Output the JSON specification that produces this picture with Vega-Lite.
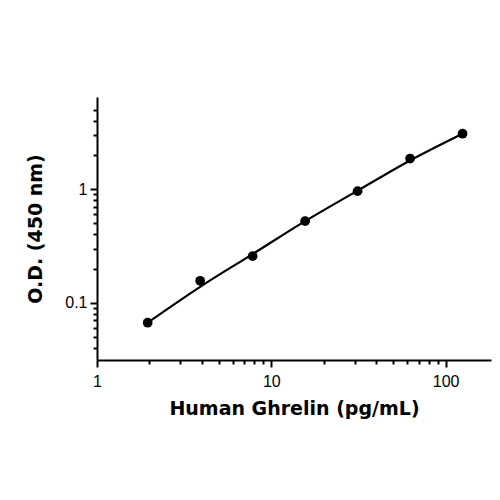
{
  "$schema": "https://vega.github.io/schema/vega-lite/v6.json",
  "width": 394,
  "height": 263,
  "autosize": {"type": "none"},
  "padding": {"left": 97, "top": 97, "right": 9, "bottom": 140},
  "background": "white",
  "config": {"view": {"stroke": null}},
  "datasets": {
    "points": [
      {"conc": 1.953, "od": 0.0667},
      {"conc": 3.906, "od": 0.156},
      {"conc": 7.8125, "od": 0.257},
      {"conc": 15.625, "od": 0.523},
      {"conc": 31.25, "od": 0.96},
      {"conc": 62.5, "od": 1.86},
      {"conc": 125, "od": 3.08}
    ],
    "fit": [
      {"conc": 1.953, "od": 0.0667},
      {"conc": 3.906, "od": 0.138},
      {"conc": 7.8125, "od": 0.268},
      {"conc": 15.625, "od": 0.523},
      {"conc": 31.25, "od": 0.97},
      {"conc": 62.5, "od": 1.79},
      {"conc": 125, "od": 3.08}
    ]
  },
  "layer": [
    {
      "data": {"name": "fit"},
      "mark": {"type": "line", "color": "black", "strokeWidth": 2.2, "interpolate": "monotone"},
      "encoding": {
        "x": {
          "field": "conc",
          "type": "quantitative",
          "scale": {"type": "log", "domain": [1, 182], "nice": false},
          "axis": {
            "title": "Human Ghrelin (pg/mL)",
            "values": [1, 2, 3, 4, 5, 6, 7, 8, 9, 10, 20, 30, 40, 50, 60, 70, 80, 90, 100],
            "labelExpr": "datum.value == 1 ? '1' : datum.value == 10 ? '10' : datum.value == 100 ? '100' : ''",
            "labelOverlap": false,
            "labelFont": "Liberation Sans",
            "labelFontSize": 16,
            "labelColor": "black",
            "labelPadding": 6,
            "labelFlush": false,
            "tickColor": "black",
            "tickWidth": 2,
            "tickSize": {"condition": {"test": "datum.value == 1 || datum.value == 10 || datum.value == 100", "value": 7}, "value": 4},
            "domainColor": "black",
            "domainWidth": 2,
            "grid": false,
            "titleFont": "DejaVu Sans",
            "titleFontWeight": "bold",
            "titleFontSize": 19,
            "titleColor": "black",
            "titlePadding": 10
          }
        },
        "y": {
          "field": "od",
          "type": "quantitative",
          "scale": {"type": "log", "domain": [0.0313, 6.48], "nice": false},
          "axis": {
            "title": "O.D. (450 nm)",
            "values": [0.04, 0.05, 0.06, 0.07, 0.08, 0.09, 0.1, 0.2, 0.3, 0.4, 0.5, 0.6, 0.7, 0.8, 0.9, 1, 2, 3, 4, 5],
            "labelExpr": "datum.value == 1 ? '1' : datum.value == 0.1 ? '0.1' : ''",
            "labelOverlap": false,
            "labelFont": "Liberation Sans",
            "labelFontSize": 16,
            "labelColor": "black",
            "labelPadding": 3,
            "labelFlush": false,
            "tickColor": "black",
            "tickWidth": 2,
            "tickSize": {"condition": {"test": "datum.value == 1 || datum.value == 0.1", "value": 7}, "value": 4},
            "domainColor": "black",
            "domainWidth": 2,
            "grid": false,
            "titleFont": "DejaVu Sans",
            "titleFontWeight": "bold",
            "titleFontSize": 19,
            "titleColor": "black",
            "titlePadding": 19
          }
        }
      }
    },
    {
      "data": {"name": "points"},
      "mark": {"type": "point", "filled": true, "shape": "circle", "size": 95, "color": "black", "opacity": 1},
      "encoding": {
        "x": {"field": "conc", "type": "quantitative"},
        "y": {"field": "od", "type": "quantitative"}
      }
    }
  ]
}
